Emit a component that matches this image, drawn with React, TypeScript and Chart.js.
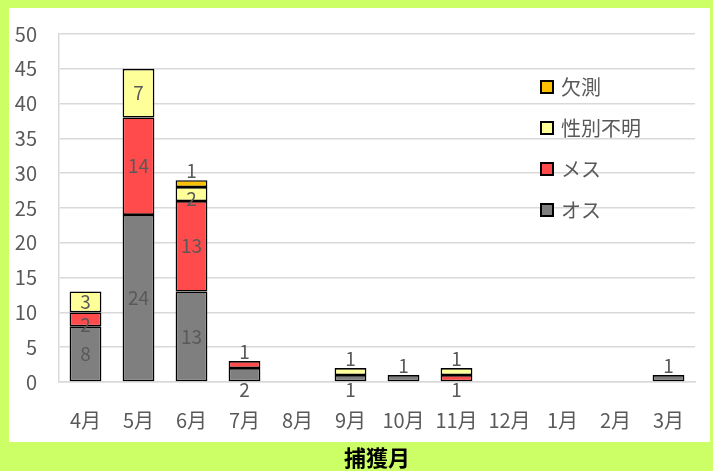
import React, { useEffect, useRef } from "react";
import { Chart, registerables } from "chart.js";

Chart.register(...registerables);

const months = ["4月", "5月", "6月", "7月", "8月", "9月", "10月", "11月", "12月", "1月", "2月", "3月"];
const male = [8, 24, 13, 2, 0, 1, 1, 0, 0, 0, 0, 1];
const female = [2, 14, 13, 1, 0, 0, 0, 1, 0, 0, 0, 0];
const unknownSex = [3, 7, 2, 0, 0, 1, 0, 1, 0, 0, 0, 0];
const missing = [0, 0, 1, 0, 0, 0, 0, 0, 0, 0, 0, 0];
const seriesNames = ["オス", "メス", "性別不明", "欠測"];
const yTicksMax = 50;
const yStep = 5;
const xTitle = "捕獲月";

const FONT = "'Noto Sans CJK JP', 'Noto Sans', sans-serif";
const GRAY_TEXT = "#595959";

const bgPlugin = {
  id: "bgPanel",
  beforeDraw(chart: any) {
    const ctx = chart.ctx;
    ctx.save();
    ctx.fillStyle = "#CCFF66";
    ctx.fillRect(0, 0, chart.width, chart.height);
    ctx.fillStyle = "#ffffff";
    ctx.fillRect(9, 8, 701, 434);
    ctx.restore();
  },
  afterDraw(chart: any) {
    const ctx = chart.ctx;
    const a = chart.chartArea;
    ctx.save();
    ctx.fillStyle = "#000000";
    ctx.font = `bold 22px ${FONT}`;
    ctx.textAlign = "center";
    ctx.textBaseline = "middle";
    ctx.fillText(xTitle, (a.left + a.right) / 2, 458);
    ctx.restore();
  },
};

const legendPlugin = {
  id: "insideLegend",
  afterDraw(chart: any) {
    const ctx = chart.ctx;
    ctx.save();
    ctx.font = `20px ${FONT}`;
    ctx.textBaseline = "middle";
    ctx.textAlign = "left";
    const ds = chart.data.datasets;
    const order = [3, 2, 1, 0];
    order.forEach((di, k) => {
      const y = 87 + k * 41;
      ctx.fillStyle = ds[di].backgroundColor;
      ctx.fillRect(541, y - 6, 12, 12);
      ctx.strokeStyle = "#000";
      ctx.lineWidth = 2;
      ctx.strokeRect(541, y - 6, 12, 12);
      ctx.fillStyle = GRAY_TEXT;
      ctx.fillText(ds[di].label, 561, y);
    });
    ctx.restore();
  },
};

const labelPlugin = {
  id: "segLabels",
  afterDatasetsDraw(chart: any) {
    const ctx = chart.ctx;
    ctx.save();
    ctx.font = `19px ${FONT}`;
    ctx.fillStyle = GRAY_TEXT;
    ctx.textAlign = "center";
    ctx.textBaseline = "middle";
    const n = chart.data.labels.length;
    for (let i = 0; i < n; i++) {
      const segs: any[] = [];
      chart.data.datasets.forEach((ds: any, di: number) => {
        const v = ds.data[i];
        if (!v) return;
        const el = chart.getDatasetMeta(di).data[i] as any;
        segs.push({ v, x: el.x, top: Math.min(el.y, el.base), bottom: Math.max(el.y, el.base) });
      });
      segs.forEach((s, k) => {
        const h = s.bottom - s.top;
        let y = (s.top + s.bottom) / 2;
        if (h < 20) {
          if (k === segs.length - 1) y = s.top - 9;
          else if (k === 0) y = s.bottom + 9;
          else y += 5;
        }
        ctx.fillText(String(s.v), s.x, y);
      });
    }
    ctx.restore();
  },
};

export default function App() {
  const ref = useRef<HTMLCanvasElement | null>(null);
  useEffect(() => {
    if (!ref.current) return;
    const colors = ["#7F7F7F", "#FF4B4B", "#FFFF99", "#FFC000"];
    const values = [male, female, unknownSex, missing];
    const chart = new Chart(ref.current, {
      type: "bar",
      data: {
        labels: months,
        datasets: values.map((d, i) => ({
          label: seriesNames[i],
          data: d,
          backgroundColor: colors[i],
          borderColor: "#000000",
          borderWidth: 1.6,
          borderSkipped: false,
          barPercentage: 0.6,
          categoryPercentage: 1,
        })),
      },
      options: {
        animation: false,
        responsive: false,
        maintainAspectRatio: false,
        layout: { padding: { left: 0, top: 30, right: 18, bottom: 0 } },
        plugins: { legend: { display: false }, tooltip: { enabled: false } },
        scales: {
          x: {
            stacked: true,
            grid: { display: false, drawTicks: false },
            border: { display: true, color: "#D9D9D9", width: 1.5 },
            ticks: { color: GRAY_TEXT, font: { family: FONT, size: 20 }, padding: 26, maxRotation: 0, autoSkip: false },
            afterFit(scale: any) { scale.height = 89; },
          },
          y: {
            stacked: true,
            min: 0,
            max: yTicksMax,
            grid: { color: "#D9D9D9", lineWidth: 1.5, drawTicks: false },
            border: { display: true, color: "#D9D9D9", width: 1.5 },
            ticks: { stepSize: yStep, color: GRAY_TEXT, font: { family: FONT, size: 20 }, padding: 22 },
            afterFit(scale: any) { scale.width = 59; },
          },
        },
      },
      plugins: [bgPlugin, labelPlugin, legendPlugin],
    });
    return () => chart.destroy();
  }, []);
  return (
    <div style={{ position: "fixed", left: 0, top: 0, width: 713, height: 471 }}>
      <canvas ref={ref} width={713} height={471} style={{ display: "block", width: 713, height: 471 }} />
    </div>
  );
}
